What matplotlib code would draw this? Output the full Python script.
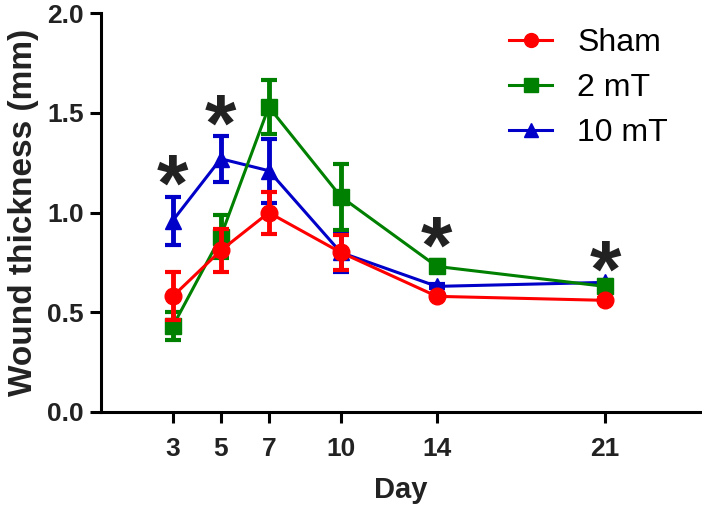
import matplotlib
matplotlib.use("Agg")
import matplotlib.pyplot as plt
from matplotlib.lines import Line2D

# 数据
days = [3, 5, 7, 10, 14, 21]

sham = [0.58, 0.81, 1.00, 0.80, 0.58, 0.56]
sham_err = [0.12, 0.11, 0.105, 0.09, 0.01, 0.01]

mt2 = [0.43, 0.88, 1.53, 1.08, 0.73, 0.63]
mt2_err = [0.07, 0.11, 0.135, 0.165, 0.03, 0.01]

mt10 = [0.96, 1.27, 1.21, 0.80, 0.63, 0.65]
mt10_err = [0.12, 0.115, 0.16, 0.10, 0.01, 0.01]

star_days = [3, 5, 14, 21]
star_y = [1.20, 1.50, 0.89, 0.77]

plt.rcParams["font.family"] = ["Liberation Sans", "DejaVu Sans"]

fig = plt.figure(figsize=(7.02, 5.08), dpi=100)
ax = fig.add_axes([0.1435, 0.189, 0.855, 0.785])

series = [
    ("10 mT", mt10, mt10_err, "#0000C8", "^", 11, 2),
    ("2 mT", mt2, mt2_err, "#008000", "s", 11, 3),
    ("Sham", sham, sham_err, "#FF0000", "o", 12, 4),
]
for label, y, err, color, marker, ms, z in series:
    ax.errorbar(days, y, yerr=err, color=color, marker=marker, markersize=ms,
                linewidth=2.2, elinewidth=3.5, capsize=6, capthick=3,
                zorder=z)

# 显著性星号
for d, y in zip(star_days, star_y):
    ax.annotate("*", (d, y), xytext=(0, -12), textcoords="offset points",
                fontsize=58, fontweight="bold", ha="center", va="center",
                color="#222222")

ax.set_xlim(0, 25)
ax.set_ylim(0, 2.0)
ax.set_xticks(days)
ax.set_yticks([0.0, 0.5, 1.0, 1.5, 2.0])
ax.set_yticklabels(["0.0", "0.5", "1.0", "1.5", "2.0"])
ax.tick_params(axis="both", width=2.2, length=8, labelsize=19)
ax.tick_params(axis="x", pad=10)
ax.tick_params(axis="y", pad=4)
for lab in ax.get_xticklabels() + ax.get_yticklabels():
    lab.set_fontweight("bold")
    lab.set_color("#222222")

for side in ["top", "right"]:
    ax.spines[side].set_visible(False)
for side in ["left", "bottom"]:
    ax.spines[side].set_linewidth(2.2)

ax.set_xlabel("Day", fontsize=21, fontweight="bold", color="#222222", labelpad=11)
ax.set_ylabel("Wound thickness (mm)", fontsize=24, fontweight="bold", color="#222222",
              labelpad=6)

legend_handles = [
    Line2D([], [], color="#FF0000", marker="o", markersize=10, linewidth=2.2),
    Line2D([], [], color="#008000", marker="s", markersize=10, linewidth=2.2),
    Line2D([], [], color="#0000C8", marker="^", markersize=10, linewidth=2.2),
]
fig.legend(legend_handles, ["Sham", "2 mT", "10 mT"], loc="upper left",
           bbox_to_anchor=(509 / 702, 1 - 28 / 508), frameon=False, fontsize=23,
           handlelength=1.35, handletextpad=0.78, labelspacing=0.47,
           borderpad=0, borderaxespad=0)

fig.savefig("out.png", dpi=100)
